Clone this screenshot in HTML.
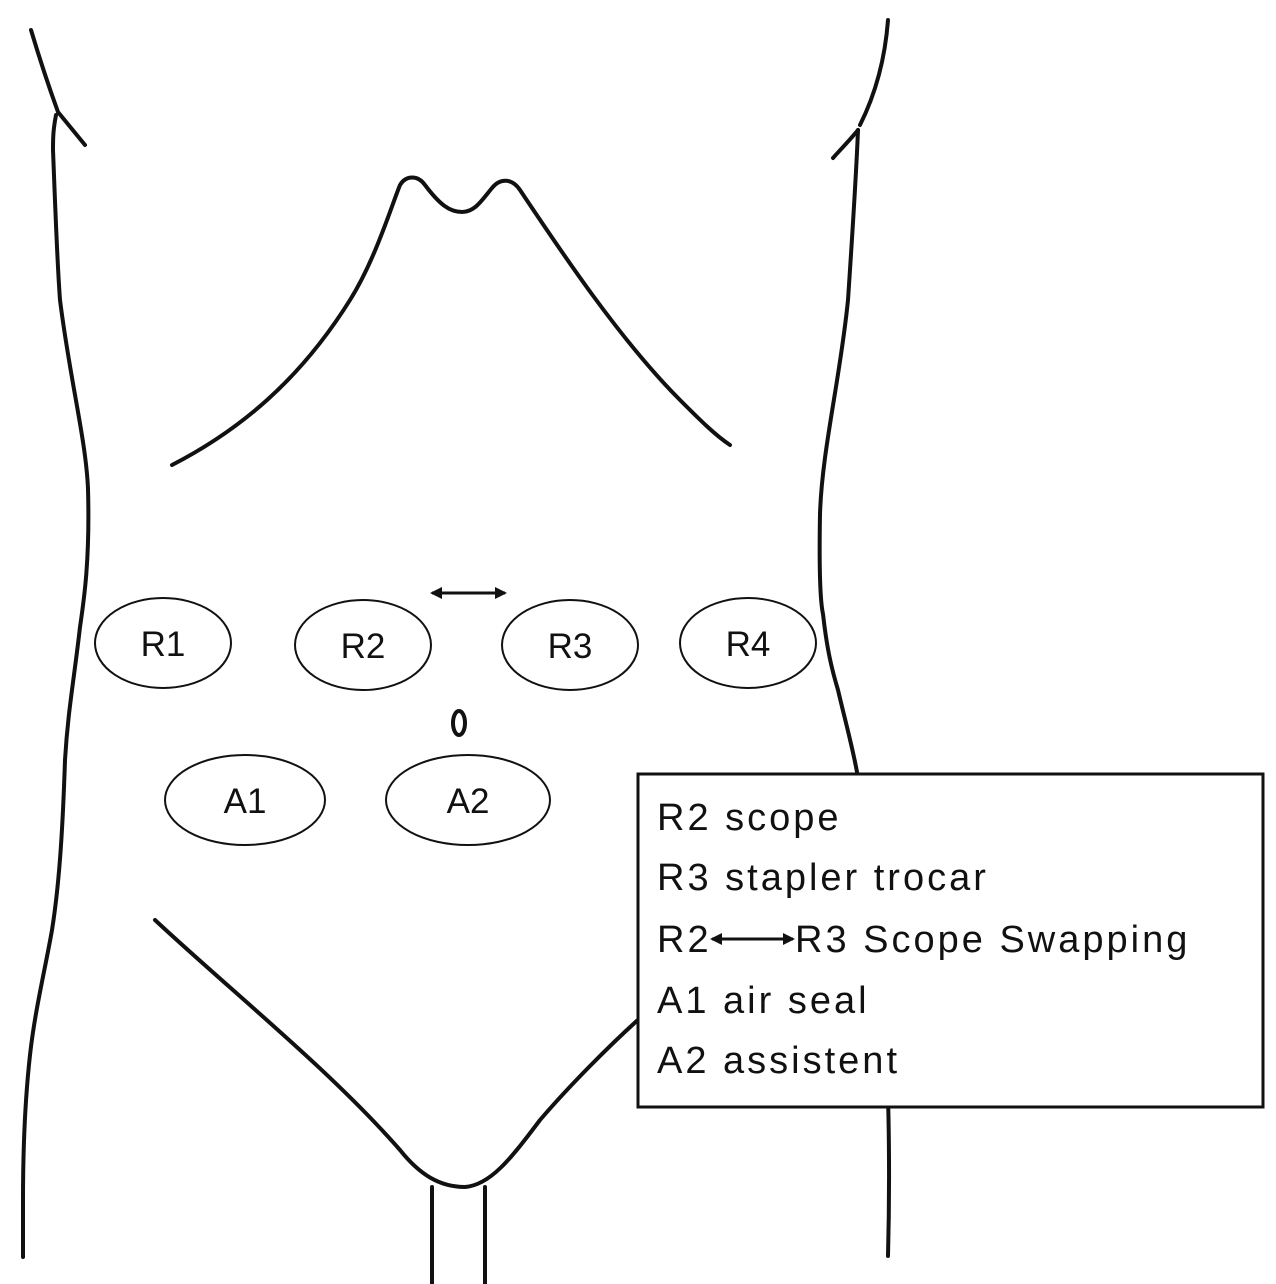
<!DOCTYPE html>
<html><head><style>
html,body{margin:0;padding:0;background:#fff;}
svg{display:block;}
text{font-family:"Liberation Sans",sans-serif;fill:#111;}
</style></head><body>
<svg width="1276" height="1284" viewBox="0 0 1276 1284" xmlns="http://www.w3.org/2000/svg">
<defs>
<marker id="ah" markerWidth="12" markerHeight="12" refX="10" refY="6" orient="auto-start-reverse" markerUnits="userSpaceOnUse">
<path d="M0,0 L12,6 L0,12 z" fill="#111"/>
</marker>
</defs>
<g fill="none" stroke="#111" stroke-width="4" stroke-linecap="round">
<path d="M31,30 C40,60 50,90 58,112 L85,145"/>
<path d="M56,115 C53,130 53,140 53,150 C55,200 57,260 60,300 C70,380 86,440 88,489 C90,560 84,600 80,627 C74,680 68,710 65,760 C63,820 60,880 52,930 C45,970 35,1010 30,1055 C25,1100 23,1150 23,1200 L23,1257"/>
<path d="M888,20 C885,60 875,95 860,125"/>
<path d="M833,158 C840,150 850,140 858,130"/>
<path d="M858,130 C856,180 852,240 848,300 C840,380 822,450 820,514 C819,570 820,600 823,614 C827,650 832,670 838,690 C845,720 852,745 857,772 C870,850 880,950 886,1050 C889,1100 890,1180 888,1256"/>
<path d="M172,465 C240,430 300,380 350,300 C375,260 390,210 400,185 C406,175 418,175 425,185 C440,205 450,212 462,212 C475,212 482,200 492,188 C500,178 512,178 520,190 C560,250 620,340 680,400 C700,420 715,435 730,445"/>
<path d="M155,920 C230,990 330,1070 400,1150 C420,1175 440,1187 465,1187 C490,1185 510,1160 540,1120 C570,1085 610,1045 640,1018"/>
<path d="M432,1187 L432,1284"/>
<path d="M485,1187 L485,1284"/>
</g>
<g fill="#fff" stroke="#111" stroke-width="2">
<ellipse cx="163" cy="643" rx="68" ry="45"/>
<ellipse cx="363" cy="645" rx="68" ry="45"/>
<ellipse cx="570" cy="645" rx="68" ry="45"/>
<ellipse cx="748" cy="643" rx="68" ry="45"/>
<ellipse cx="245" cy="800" rx="80" ry="45"/>
<ellipse cx="468" cy="800" rx="82" ry="45"/>
</g>
<ellipse cx="459" cy="723" rx="6" ry="12" fill="none" stroke="#111" stroke-width="4"/>
<line x1="432" y1="593" x2="505" y2="593" stroke="#111" stroke-width="3" marker-start="url(#ah)" marker-end="url(#ah)"/>
<g font-size="35" text-anchor="middle">
<text x="163" y="656">R1</text>
<text x="363" y="658">R2</text>
<text x="570" y="658">R3</text>
<text x="748" y="656">R4</text>
<text x="245" y="813">A1</text>
<text x="468" y="813">A2</text>
</g>
<rect x="638" y="774" width="625" height="333" fill="#fff" stroke="#111" stroke-width="3"/>
<g font-size="38" letter-spacing="3">
<text x="657" y="830">R2 scope</text>
<text x="657" y="890">R3 stapler trocar</text>
<text x="657" y="952">R2</text>
<line x1="712" y1="939" x2="793" y2="939" stroke="#111" stroke-width="3" marker-start="url(#ah)" marker-end="url(#ah)"/>
<text x="795" y="952">R3 Scope Swapping</text>
<text x="657" y="1013">A1 air seal</text>
<text x="657" y="1073">A2 assistent</text>
</g>
</svg>
</body></html>
